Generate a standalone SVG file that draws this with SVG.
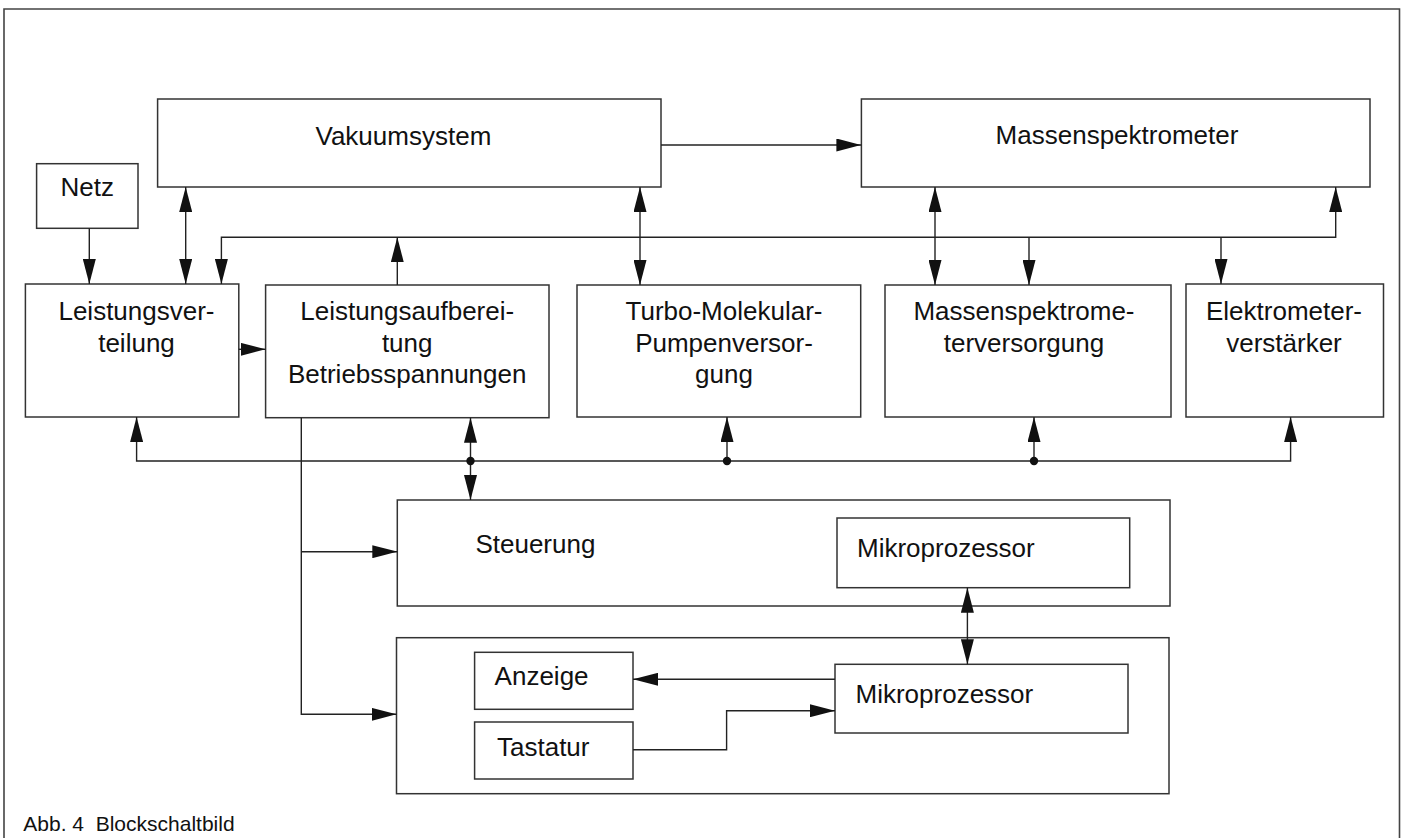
<svg xmlns="http://www.w3.org/2000/svg" width="1402" height="838" viewBox="0 0 1402 838">
<style>
.box{fill:#fff;stroke:#333;stroke-width:1.5}
.frame{fill:none;stroke:#444;stroke-width:1.6}
.ln{fill:none;stroke:#222;stroke-width:1.4}
.t{font-family:"Liberation Sans",Arial,sans-serif;font-size:26px;fill:#111}
.c{text-anchor:middle}
.cap{font-family:"Liberation Sans",Arial,sans-serif;font-size:21px;fill:#111}
.dot{fill:#111}
</style>
<defs>
<marker id="ah" markerUnits="userSpaceOnUse" markerWidth="25" markerHeight="13" viewBox="0 0 25 13" refX="25" refY="6.5" orient="auto-start-reverse">
<path d="M0,0 L25,6.5 L0,13 z" fill="#111"/>
</marker>
</defs>
<rect width="1402" height="838" fill="#fff"/>
<path class="frame" d="M4,845 L4,9 L1399.5,9 L1399.5,845"/>

<g id="netz"><rect class="box" x="36.6" y="163.7" width="101.4" height="64.6"/><text class="t c" x="87.2" y="195.7">Netz</text></g>
<g id="vakuumsystem"><rect class="box" x="157.6" y="99" width="503.4" height="88"/><text class="t c" x="403.4" y="145">Vakuumsystem</text></g>
<g id="massenspektrometer"><rect class="box" x="861.4" y="99" width="508.6" height="88"/><text class="t c" x="1117" y="144">Massenspektrometer</text></g>
<g id="leistungsverteilung"><rect class="box" x="25.4" y="284" width="213.4" height="133"/><text class="t c" x="136.5" y="320">Leistungsver-</text><text class="t c" x="136.5" y="351.5">teilung</text></g>
<g id="leistungsaufbereitung"><rect class="box" x="265.6" y="285" width="283.4" height="132.7"/><text class="t c" x="407.2" y="320">Leistungsaufberei-</text><text class="t c" x="407.2" y="351.5">tung</text><text class="t c" x="407.2" y="383">Betriebsspannungen</text></g>
<g id="turbo"><rect class="box" x="577" y="285" width="283.7" height="132"/><text class="t c" x="724" y="320">Turbo-Molekular-</text><text class="t c" x="724" y="351.5">Pumpenversor-</text><text class="t c" x="724" y="383">gung</text></g>
<g id="msversorgung"><rect class="box" x="885" y="285" width="286" height="132"/><text class="t c" x="1024" y="320">Massenspektrome-</text><text class="t c" x="1024" y="351.5">terversorgung</text></g>
<g id="elektrometer"><rect class="box" x="1186" y="284" width="197.5" height="133"/><text class="t c" x="1284" y="320">Elektrometer-</text><text class="t c" x="1284" y="351.5">verstärker</text></g>
<g id="steuerung"><rect class="box" x="397.3" y="500" width="772.7" height="106"/><text class="t" x="475.4" y="553.3">Steuerung</text></g>
<g id="mikroprozessor1"><rect class="box" x="837" y="518" width="292.7" height="69.7"/><text class="t" x="857" y="557.3">Mikroprozessor</text></g>
<g id="bedienteil"><rect class="box" x="396.5" y="637.7" width="772.5" height="156"/></g>
<g id="mikroprozessor2"><rect class="box" x="835" y="664.3" width="293" height="68.7"/><text class="t" x="855.5" y="702.7">Mikroprozessor</text></g>
<g id="anzeige"><rect class="box" x="474.6" y="652.3" width="158.4" height="57"/><text class="t" x="494.6" y="685">Anzeige</text></g>
<g id="tastatur"><rect class="box" x="474.6" y="722" width="158.4" height="57"/><text class="t" x="497" y="755.7">Tastatur</text></g>

<g id="connectors">
<path class="ln" d="M89.3,228.3 L89.3,284" marker-end="url(#ah)"/>
<path class="ln" d="M185.7,187 L185.7,284" marker-start="url(#ah)" marker-end="url(#ah)"/>
<path class="ln" d="M221.4,284 L221.4,237.3 L1335.7,237.3 L1335.7,187" marker-start="url(#ah)" marker-end="url(#ah)"/>
<path class="ln" d="M397.3,285 L397.3,237.3" marker-end="url(#ah)"/>
<path class="ln" d="M640,187 L640,285" marker-start="url(#ah)" marker-end="url(#ah)"/>
<path class="ln" d="M661,145 L861.4,145" marker-end="url(#ah)"/>
<path class="ln" d="M935,187 L935,285" marker-start="url(#ah)" marker-end="url(#ah)"/>
<path class="ln" d="M1029,237.3 L1029,285" marker-end="url(#ah)"/>
<path class="ln" d="M1221,237.3 L1221,284" marker-end="url(#ah)"/>
<path class="ln" d="M238.8,349.3 L265.6,349.3" marker-end="url(#ah)"/>
<path class="ln" d="M136.6,417 L136.6,461 L1290.6,461 L1290.6,417" marker-start="url(#ah)" marker-end="url(#ah)"/>
<path class="ln" d="M727,461 L727,417" marker-end="url(#ah)"/>
<path class="ln" d="M1034,461 L1034,417" marker-end="url(#ah)"/>
<path class="ln" d="M470.5,417.7 L470.5,500" marker-start="url(#ah)" marker-end="url(#ah)"/>
<path class="ln" d="M301.3,417.7 L301.3,714.3 L396.5,714.3" marker-end="url(#ah)"/>
<path class="ln" d="M301.3,551.7 L397.3,551.7" marker-end="url(#ah)"/>
<path class="ln" d="M967.4,587.7 L967.4,664.3" marker-start="url(#ah)" marker-end="url(#ah)"/>
<path class="ln" d="M835,679.3 L633,679.3" marker-end="url(#ah)"/>
<path class="ln" d="M633,749.7 L726.6,749.7 L726.6,710.7 L835,710.7" marker-end="url(#ah)"/>
<circle class="dot" cx="470.5" cy="461" r="4.2"/>
<circle class="dot" cx="727" cy="461" r="4.2"/>
<circle class="dot" cx="1034" cy="461" r="4.2"/>
</g>

<text class="cap" x="23.3" y="831" xml:space="preserve">Abb. 4  Blockschaltbild</text>
</svg>
